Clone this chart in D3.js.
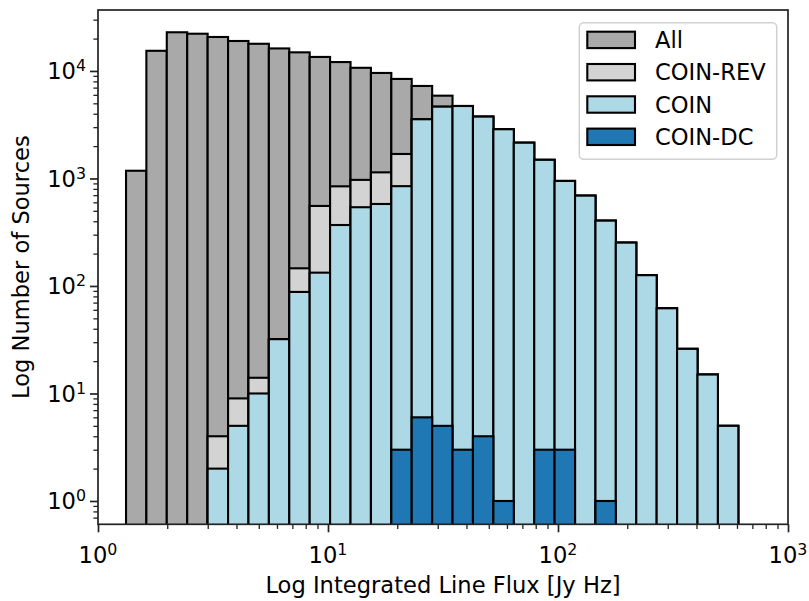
<!DOCTYPE html>
<html>
<head>
<meta charset="utf-8">
<script src="https://cdn.jsdelivr.net/npm/d3@7"></script>
<style>
  html, body { margin: 0; padding: 0; background: #ffffff; }
  svg { display: block; font-family: "DejaVu Sans", sans-serif; }
</style>
</head>
<body>
<svg id="chart" width="809" height="601"></svg>
<script>
// Logarithmic bin edges of the line-flux histogram (Jy Hz)
const binEdges = [1.324, 1.623, 1.991, 2.443, 2.997, 3.677, 4.510, 5.533, 6.786, 8.325,
  10.21, 12.53, 15.37, 18.85, 23.12, 28.37, 34.79, 42.68, 52.36, 64.25,
  78.82, 96.65, 118.6, 145.5, 178.4, 218.9, 268.5, 329.4, 404.1, 495.8, 608.1];

// Source counts per bin for each sample
const allCounts = [1180, 15400, 22900, 22200, 20700, 19000, 17900, 16200, 14900, 13500,
  12100, 10700, 9580, 8430, 7250, 5890, 4720, 3760, 2870, 2150,
  1490, 948, 692, 405, 253, 126, 62, 26, 15, 5];
const coinRevCounts = [0, 0, 0, 0, 4, 9, 14, 32, 146, 555,
  845, 970, 1140, 1690, 3555, 4655, 4720, 3760, 2870, 2150,
  1490, 948, 692, 405, 253, 126, 62, 26, 15, 5];
const coinCounts = [0, 0, 0, 0, 2, 5, 10, 32, 88, 133,
  369, 540, 579, 848, 3555, 4655, 4720, 3760, 2870, 2150,
  1490, 948, 692, 405, 253, 126, 62, 26, 15, 5];
const coinDcCounts = [0, 0, 0, 0, 0, 0, 0, 0, 0, 0,
  0, 0, 0, 3, 6, 5, 3, 4, 1, 0,
  3, 3, 0, 1, 0, 0, 0, 0, 0, 0];

const seriesNames = ["All", "COIN-REV", "COIN", "COIN-DC"];
const seriesColors = ["#a9a9a9", "#d3d3d3", "#add8e6", "#1f77b4"];
const seriesCounts = [allCounts, coinRevCounts, coinCounts, coinDcCounts];

// Tick exponents for the decade labels
const xTickExponents = [0, 1, 2, 3];
const yTickExponents = [0, 1, 2, 3, 4];

const xLabel = "Log Integrated Line Flux [Jy Hz]";
const yLabel = "Log Number of Sources";

const W = 809, H = 601;
const margin = { left: 98, top: 10, right: 21, bottom: 76.7 };
const iw = W - margin.left - margin.right;
const ih = H - margin.top - margin.bottom;
const fontSize = 22.6;

const svg = d3.select("#chart");
const g = svg.append("g").attr("transform", `translate(${margin.left},${margin.top})`);

const x = d3.scaleLog().domain([1, 1000]).range([0, iw]);
const y = d3.scaleLog().domain([0.607, 36900]).range([ih, 0]);

svg.append("defs").append("clipPath").attr("id", "plotclip")
  .append("rect").attr("x", 0).attr("y", 0).attr("width", iw).attr("height", ih);

const plot = g.append("g").attr("clip-path", "url(#plotclip)");

// Overlaid histograms, drawn in series order
seriesCounts.forEach((counts, s) => {
  const bins = counts.map((c, i) => ({ x0: binEdges[i], x1: binEdges[i + 1], c }))
    .filter(d => d.c > 0);
  plot.append("g").selectAll("rect").data(bins).join("rect")
    .attr("x", d => x(d.x0))
    .attr("width", d => x(d.x1) - x(d.x0))
    .attr("y", d => y(d.c))
    .attr("height", d => ih + 6 - y(d.c))
    .attr("fill", seriesColors[s])
    .attr("stroke", "#000")
    .attr("stroke-width", 2.1);
});

// Minor tick values for log axes
function minorTicks(lo, hi) {
  const out = [];
  for (let e = Math.floor(Math.log10(lo)); e <= Math.ceil(Math.log10(hi)); e++) {
    for (let m = 2; m <= 9; m++) {
      const v = m * Math.pow(10, e);
      if (v >= lo && v <= hi) out.push(v);
    }
  }
  return out;
}

const tickColor = "#222";
const xMajor = xTickExponents.map(e => Math.pow(10, e));
const yMajor = yTickExponents.map(e => Math.pow(10, e));

// x axis
const xAxisG = g.append("g").attr("transform", `translate(0,${ih})`);
xAxisG.append("g").call(d3.axisBottom(x).tickValues(minorTicks(1, 1000)).tickSize(4.6).tickFormat(""))
  .call(a => a.select(".domain").remove())
  .call(a => a.selectAll("line").attr("stroke", tickColor).attr("stroke-width", 1.3));
xAxisG.append("g").call(d3.axisBottom(x).tickValues(xMajor).tickSize(8).tickFormat(""))
  .call(a => a.select(".domain").remove())
  .call(a => a.selectAll("line").attr("stroke", tickColor).attr("stroke-width", 1.7));

// y axis
const yAxisG = g.append("g");
yAxisG.append("g").call(d3.axisLeft(y).tickValues(minorTicks(0.607, 36900)).tickSize(4.6).tickFormat(""))
  .call(a => a.select(".domain").remove())
  .call(a => a.selectAll("line").attr("stroke", tickColor).attr("stroke-width", 1.3));
yAxisG.append("g").call(d3.axisLeft(y).tickValues(yMajor).tickSize(8).tickFormat(""))
  .call(a => a.select(".domain").remove())
  .call(a => a.selectAll("line").attr("stroke", tickColor).attr("stroke-width", 1.7));

// Decade labels with superscript exponent
function powerLabel(sel, e) {
  sel.append("tspan").text("10");
  sel.append("tspan").attr("font-size", (fontSize * 0.7).toFixed(1) + "px")
    .attr("dy", -fontSize * 0.36).text(String(e));
}
xTickExponents.forEach(e => {
  const t = g.append("text").attr("x", x(Math.pow(10, e))).attr("y", ih + 39)
    .attr("text-anchor", "middle").attr("font-size", fontSize + "px").attr("fill", "#000");
  powerLabel(t, e);
});
yTickExponents.forEach(e => {
  const t = g.append("text").attr("x", -12).attr("y", y(Math.pow(10, e)) + 8.3)
    .attr("text-anchor", "end").attr("font-size", fontSize + "px").attr("fill", "#000");
  powerLabel(t, e);
});

// Frame
g.append("rect").attr("x", 0).attr("y", 0).attr("width", iw).attr("height", ih)
  .attr("fill", "none").attr("stroke", tickColor).attr("stroke-width", 1.7);

// Axis titles
svg.append("text").attr("x", margin.left + iw / 2).attr("y", 593.3)
  .attr("text-anchor", "middle").attr("font-size", fontSize + "px").attr("fill", "#000")
  .text(xLabel);
svg.append("text").attr("transform", `translate(29,${margin.top + ih / 2}) rotate(-90)`)
  .attr("text-anchor", "middle").attr("font-size", fontSize + "px").attr("fill", "#000")
  .text(yLabel);

// Legend
const legend = svg.append("g").attr("transform", "translate(579.3,22.7)");
legend.append("rect").attr("width", 197.4).attr("height", 136.6).attr("rx", 4.5)
  .attr("fill", "#fff").attr("fill-opacity", 0.8).attr("stroke", "#d0d0d0").attr("stroke-width", 1.5);
seriesNames.forEach((name, i) => {
  const row = legend.append("g").attr("transform", `translate(0,${9 + i * 32.3})`);
  row.append("rect").attr("x", 8).attr("y", 0).attr("width", 47.7).attr("height", 16.4)
    .attr("fill", seriesColors[i]).attr("stroke", "#000").attr("stroke-width", 2.1);
  row.append("text").attr("x", 75.7).attr("y", 16.2).attr("font-size", fontSize + "px")
    .attr("fill", "#000").text(name);
});
</script>
</body>
</html>
